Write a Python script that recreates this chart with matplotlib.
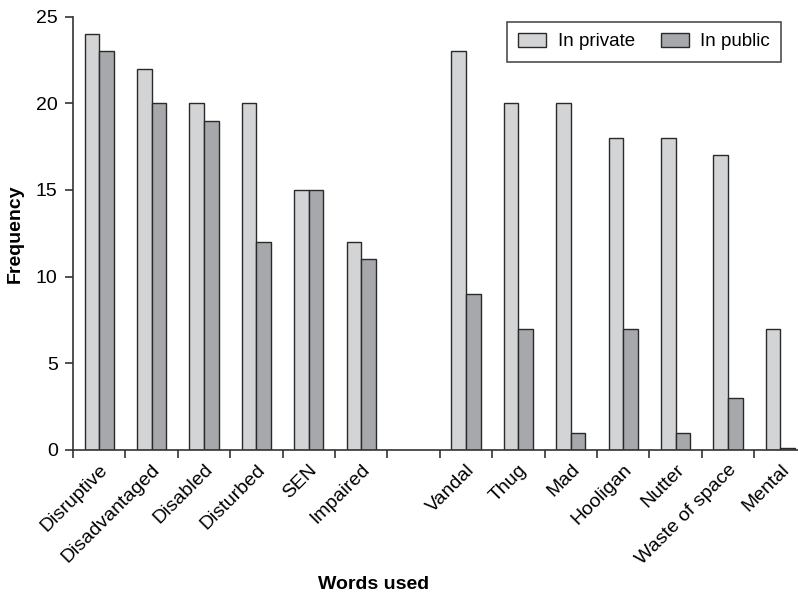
import matplotlib.pyplot as plt
import numpy as np

plt.rcParams['font.family'] = ['Liberation Sans', 'DejaVu Sans']

# words in order; the empty string is the gap between the two groups
words = ['Disruptive', 'Disadvantaged', 'Disabled', 'Disturbed', 'SEN', 'Impaired', '',
         'Vandal', 'Thug', 'Mad', 'Hooligan', 'Nutter', 'Waste of space', 'Mental']
in_private = [24, 22, 20, 20, 15, 12, 0, 23, 20, 20, 18, 18, 17, 7]
in_public = [23, 20, 19, 12, 15, 11, 0, 9, 7, 1, 7, 1, 3, 0.1]

fig = plt.figure(figsize=(7.98, 5.95), dpi=100)
ax = fig.add_axes([73 / 798, 145 / 595, 1 - 73 / 798, (450 - 16.5) / 595])

x = np.arange(len(words))
w = 0.28
real = [i for i, name in enumerate(words) if name]
ax.bar(x[real] - w / 2, [in_private[i] for i in real], w, color='#d3d4d6',
       edgecolor='#2a2a2a', linewidth=1.0, label='In private')
ax.bar(x[real] + w / 2, [in_public[i] for i in real], w, color='#a7a8ab',
       edgecolor='#2a2a2a', linewidth=1.0, label='In public')

ax.set_xlim(-0.5, (798 - 73) / 52.4 - 0.5)
ax.set_ylim(0, 25)
ax.set_yticks([0, 5, 10, 15, 20, 25])

# ticks sit on the category boundaries, labels at the centres
ax.set_xticks(np.arange(len(words)) - 0.5)
ax.set_xticks(x, minor=True)
ax.set_xticklabels([])
ax.set_xticklabels([name for name in words], minor=True, rotation=45,
                   ha='right', rotation_mode='anchor', fontsize=14)
ax.tick_params(axis='x', which='minor', length=0, pad=8)
ax.tick_params(axis='x', which='major', length=6, width=1.2, direction='out', color='#333333')
ax.tick_params(axis='y', length=6, width=1.2, direction='out', labelsize=14, color='#333333', pad=5)

ax.spines['top'].set_visible(False)
ax.spines['right'].set_visible(False)
for side in ['left', 'bottom']:
    ax.spines[side].set_linewidth(1.2)
    ax.spines[side].set_color('#333333')

ax.set_ylabel('Frequency', fontsize=14, fontweight='bold', labelpad=9)
ax.set_xlabel('Words used', fontsize=14, fontweight='bold')
ax.xaxis.set_label_coords((374 - 73) / (798 - 73), -0.29)

leg = ax.legend(loc='upper right', ncol=2, fontsize=13.5, frameon=True, fancybox=False,
                edgecolor='#222222', handlelength=1.5, handleheight=0.8,
                columnspacing=1.4, borderpad=0.6, handletextpad=0.6,
                bbox_to_anchor=(0.99, 1.01))
leg.get_frame().set_linewidth(1.2)

fig.savefig('out.png', dpi=100)
